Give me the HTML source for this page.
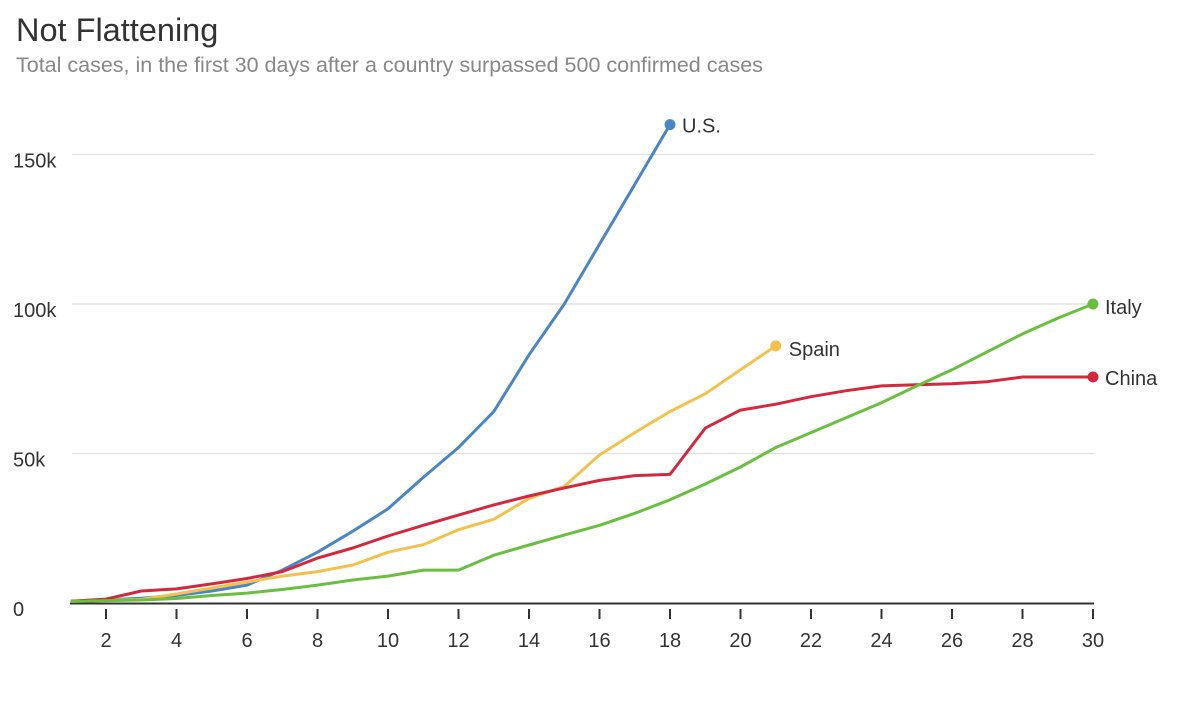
<!DOCTYPE html>
<html><head><meta charset="utf-8">
<style>
html,body{margin:0;padding:0;background:#fff;}
body{width:1200px;height:702px;overflow:hidden;font-family:"Liberation Sans",sans-serif;}
</style></head>
<body>
<svg id="chart" width="1200" height="702" xmlns="http://www.w3.org/2000/svg" font-family="Liberation Sans, sans-serif">
<text x="16" y="41" font-size="32.5" fill="#333">Not Flattening</text>
<text x="16" y="72" font-size="21.5" fill="#888">Total cases, in the first 30 days after a country surpassed 500 confirmed cases</text>
<g id="grid"></g><g id="axis"></g><g id="series"></g>
</svg>
<script>
const days = Array.from({length:30},(_,i)=>i+1);
const yTicks = [0,50,100,150];
const yTickLabels = ["0","50k","100k","150k"];
const xTicks = [2,4,6,8,10,12,14,16,18,20,22,24,26,28,30];
const usValues = [0.6,1,1.6,2.5,4,6,11,17,24,31.5,42,52,64,83,100,120,140,160];
const spainValues = [0.6,0.9,1.2,3,5,7,9,10.5,12.7,17,19.5,24.5,28,35,39,49.5,57,64,70,78,86];
const chinaValues = [0.6,1.3,4,4.7,6.4,8.2,10.5,15,18.4,22.4,26,29.4,32.8,35.8,38.5,41,42.6,43,58.5,64.5,66.5,69,71,72.6,73,73.3,74,75.6,75.6,75.6];
const italyValues = [0.5,0.8,1,1.5,2.5,3.3,4.5,6,7.7,9,11,11,16,19.4,22.7,26,30,34.5,39.8,45.5,52,57,62,67,72.6,78,84,90,95.3,100];
const seriesNames = ["U.S.","Spain","China","Italy"];
const seriesColors = ["#4a86c5","#f3c24e","#d2293f","#6abf40"];

const NS="http://www.w3.org/2000/svg";
const x = d => 70.75 + (d-1)*35.25;
const y = v => 603 - v*2.99;
function mk(tag, attrs, parent){const e=document.createElementNS(NS,tag);for(const k in attrs)e.setAttribute(k,attrs[k]);parent.appendChild(e);return e;}
const grid=document.getElementById('grid'), axis=document.getElementById('axis'), ser=document.getElementById('series');

yTicks.forEach((t,i)=>{
  if(t>0){const l=mk('line',{x1:72,x2:1094,y1:y(t),y2:y(t),stroke:'#e2e2e2','stroke-width':1.5},grid);
  
  }
  const tx=mk('text',{x:13,y:y(t)+13,'font-size':20,fill:'#333'},grid);
  tx.textContent=yTickLabels[i];
  
  
});
const base=mk('line',{x1:70,x2:1094,y1:603.5,y2:603.5,stroke:'#333','stroke-width':2},axis);


xTicks.forEach(d=>{
  const tk=mk('line',{x1:x(d),x2:x(d),y1:609,y2:619,stroke:'#333','stroke-width':2},axis);
  
  
  const tx=mk('text',{x:x(d),y:647,'font-size':20,fill:'#333','text-anchor':'middle'},axis);
  tx.textContent=d;
  
  
});
const all=[usValues,spainValues,chinaValues,italyValues];
const labelOffsets=[[12,8],[13,10],[12,8],[12,10]];
all.forEach((vals,i)=>{
  const pts=vals.map((v,j)=>x(days[j]).toFixed(1)+','+y(v).toFixed(1)).join(' ');
  const p=mk('polyline',{points:pts,fill:'none',stroke:seriesColors[i],'stroke-width':3,'stroke-linejoin':'round'},ser);
  
  
  const n=vals.length-1, ex=x(days[n]), ey=y(vals[n]);
  const c=mk('circle',{cx:ex,cy:ey,r:5.5,fill:seriesColors[i]},ser);
  
  
  const t=mk('text',{x:ex+labelOffsets[i][0],y:ey+labelOffsets[i][1],'font-size':20,fill:'#333'},ser);
  t.textContent=seriesNames[i];
  
  
});
</script>
</body></html>
